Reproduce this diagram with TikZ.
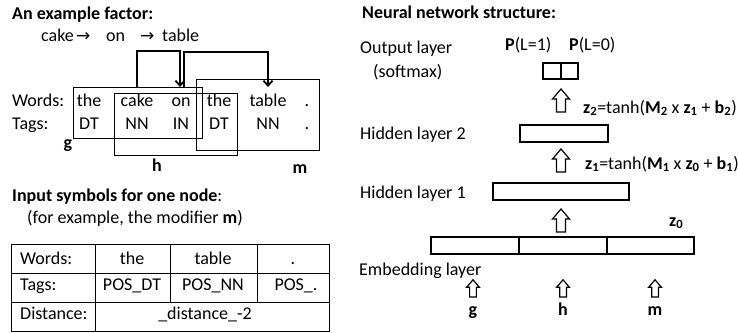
\documentclass[tikz,border=0pt]{standalone}
\usepackage{fontspec}
\setmainfont{Carlito}
\newfontfamily\arrowfont{DejaVu Sans}
\usepackage{tikz}
\usetikzlibrary{positioning, shapes, arrows.meta, calc}

\tikzset{
	every node/.style={font=\fontsize{18pt}{21pt}\selectfont, inner sep=0pt},
	lbl/.style={anchor=base west},
	tok/.style={anchor=base},
	win/.style={draw, line width=0.7pt, anchor=north west},
	dep/.style={line width=1.8pt, -{Straight Barb[length=5pt,width=9pt]}},
	grid/.style={line width=0.8pt},
	cell/.style={draw, line width=1.2pt, minimum height=17pt, outer sep=0pt, anchor=north west},
	lift/.style={draw, line width=1.2pt, line join=miter}
}
% hollow up arrow standing on a named coordinate
\newcommand{\hollowup}[2][1]{\draw[lift, scale=#1] (#2) ++(-4.5,0) -- ++(0,-13) -- ++(-4,0) -- ++(8.5,-10) -- ++(8.5,10) -- ++(-4,0) -- ++(0,13) -- cycle;}

\begin{document}
\begin{tikzpicture}[x=1pt, y=-1pt]
		\useasboundingbox (0,0) rectangle (738,332);
		
		% the factor over the sentence
		\node[lbl] (title1) at (12,19) {\textbf{An example factor:}};
		\node[lbl] (c1) at (41,41) {cake};
		\node[lbl] (c2) at (76,41) {\arrowfont\fontsize{17pt}{19pt}\selectfont →};
		\node[lbl] (c3) at (106,41) {on};
		\node[lbl] (c4) at (140,41) {\arrowfont\fontsize{17pt}{19pt}\selectfont →};
		\node[lbl] (c5) at (162,41) {table};
		
		\node[lbl] (words) at (12,106) {Words:};
		\node[lbl] (tags) at (12,129) {Tags:};
		\foreach \wrd/\tgs/\x [count=\i] in {the/DT/89, cake/NN/137, on/IN/181, the/DT/219, table/NN/268, ././307} {
			\node[tok] (w\i) at (\x,106) {\wrd};
			\node[tok] (t\i) at (\x,129) {\tgs};
		}
		
		\node[win, minimum width=129pt, minimum height=51pt] (g) at (73,87) {};
		\node[win, minimum width=123pt, minimum height=62pt] (h) at (114,93) {};
		\node[win, minimum width=123pt, minimum height=71pt] (m) at (196,79) {};
		\node[tok] (glbl) at (68,148) {\textbf{g}};
		\node[tok] (hlbl) at (157,171) {\textbf{h}};
		\node[tok] (mlbl) at (300,173) {\textbf{m}};
		
		\draw[dep] (w2 |- g.north) -- ++(0,-36) -| ($(w3 |- g.north)+(-1,0)$);
		\draw[dep] ($(w3 |- g.north)+(3,0)$) -- ++(0,-35) -| (w5 |- g.north);
		
		% input symbols of the modifier
		\node[lbl] (title2) at (12,201) {\textbf{Input symbols for one node}:};
		\node[lbl] (note) at (27,223) {(for example, the modifier \textbf{m})};
		
		\draw[grid] (11,244) rectangle (329,331);
		\draw[grid] (11,273) -- (329,273) (11,302) -- (329,302);
		\draw[grid] (95,244) -- (95,331) (170,244) -- (170,302) (257,244) -- (257,302);
		\node[lbl] (r1) at (20,264) {Words:};
		\node[lbl] (r2) at (20,290) {Tags:};
		\node[lbl] (r3) at (20,319) {Distance:};
		\node[tok] (r1a) at (132,264) {the};
		\node[tok] (r1b) at (213,264) {table};
		\node[tok] (r1c) at (293,264) {.};
		\node[tok] (r2a) at (132,290) {POS\_DT};
		\node[tok] (r2b) at (213,290) {POS\_NN};
		\node[tok] (r2c) at (296,290) {POS\_.};
		\node[tok] (r3a) at (205,319) {\_distance\_-2};
		
		% network
		\node[lbl] (title3) at (362,18) {\textbf{Neural network structure:}};
		\node[lbl] (outlbl) at (360,53) {Output layer};
		\node[lbl] (smlbl) at (373,77) {(softmax)};
		\node[lbl] (p1) at (505,50) {\textbf{P}(L=1)};
		\node[lbl] (p0) at (569,50) {\textbf{P}(L=0)};
		\node[cell, minimum width=18pt, minimum height=16pt] (o1) at (543,63) {};
		\node[cell, minimum width=17pt, minimum height=16pt, right=0pt of o1] (o2) {};
		
		\coordinate (a1) at (561,112);
		\hollowup{a1}
		\node[lbl] (z2) at (583,113) {\textbf{z\textsubscript{2}}=tanh(\textbf{M\textsubscript{2}} x \textbf{z\textsubscript{1}} + \textbf{b\textsubscript{2}})};
		
		\node[lbl] (hl2) at (360,139) {Hidden layer 2};
		\node[cell, minimum width=88pt] (h2) at (520,125) {};
		
		\coordinate (a2) at (561,172);
		\hollowup{a2}
		\node[lbl] (z1) at (585,169) {\textbf{z\textsubscript{1}}=tanh(\textbf{M\textsubscript{1}} x \textbf{z\textsubscript{0}} + \textbf{b\textsubscript{1}})};
		
		\node[lbl] (hl1) at (360,198) {Hidden layer 1};
		\node[cell, minimum width=136pt] (h1) at (493,183) {};
		
		\coordinate (a3) at (561,232);
		\hollowup{a3}
		\node[lbl] (z0) at (669,226) {\textbf{z\textsubscript{0}}};
		
		\node[cell, minimum width=88pt] (e1) at (431,237) {};
		\node[cell, minimum width=88pt, right=0pt of e1] (e2) {};
		\node[cell, minimum width=87pt, right=0pt of e2] (e3) {};
		\node[lbl] (emblbl) at (359,275) {Embedding layer};
		
		\foreach \x/\lt [count=\i] in {473/g, 563/h, 655/m} {
			\coordinate (s\i) at (\x,297);
			\hollowup[0.75]{s\i}
			\node[tok] (in\i) at (\x,315) {\textbf{\lt}};
		}
\end{tikzpicture}
\end{document}
